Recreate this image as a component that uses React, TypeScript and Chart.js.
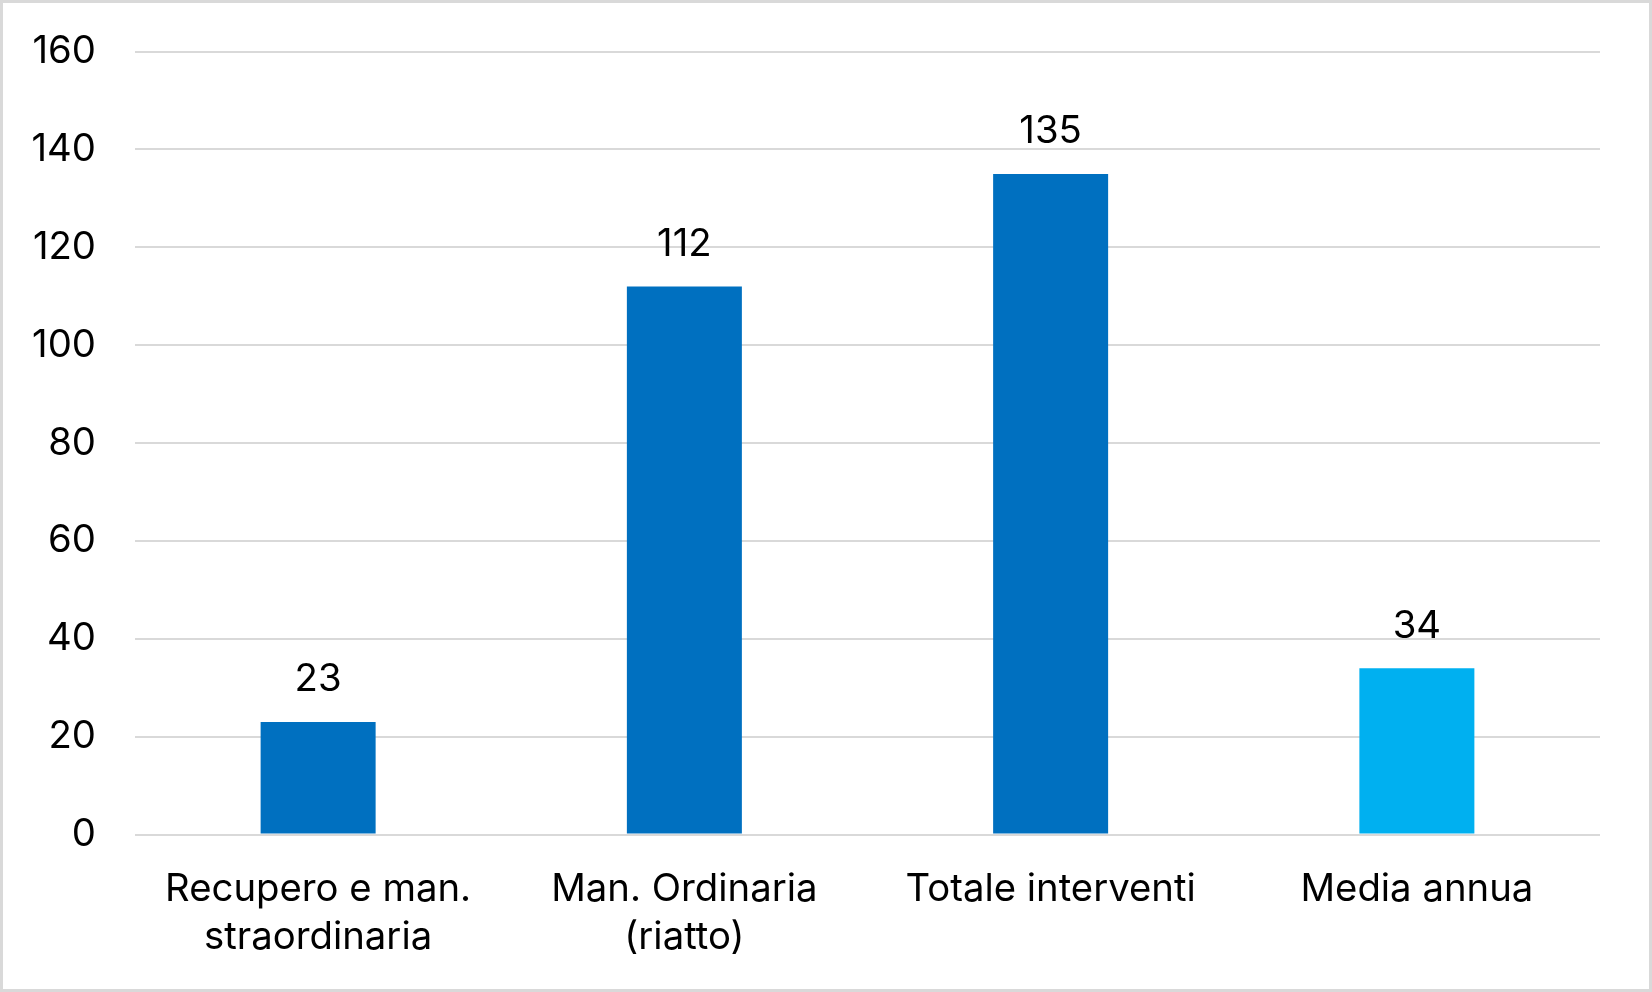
import React, { useEffect, useRef } from "react";
import { Chart, registerables } from "chart.js";

Chart.register(...registerables);

const categories: (string | string[])[] = [
  ["Recupero e man.", "straordinaria"],
  ["Man. Ordinaria", "(riatto)"],
  "Totale interventi",
  "Media annua",
];
const values: number[] = [23, 112, 135, 34];
const barColors: string[] = ["#0070C0", "#0070C0", "#0070C0", "#00B0F0"];
const yTicksMax = 160;
const yTickStep = 20;

const FONT = "Inter, 'Liberation Sans', Arial, sans-serif";
const FONT_SIZE = 38.3;

const dataLabelPlugin = {
  id: "dataLabels",
  afterDatasetsDraw(chart: any) {
    const ctx = chart.ctx;
    const meta = chart.getDatasetMeta(0);
    ctx.save();
    ctx.fillStyle = "#000000";
    ctx.font = `${FONT_SIZE}px ${FONT}`;
    ctx.textAlign = "center";
    ctx.textBaseline = "middle";
    meta.data.forEach((bar: any, i: number) => {
      ctx.fillText(String(values[i]), bar.x, bar.y - 42);
    });
    ctx.restore();
  },
};

export default function App() {
  const ref = useRef<HTMLCanvasElement>(null);
  useEffect(() => {
    if (!ref.current) return;
    const chart = new Chart(ref.current, {
      type: "bar",
      data: {
        labels: categories,
        datasets: [
          {
            data: values,
            backgroundColor: barColors,
            borderWidth: 0,
            categoryPercentage: 1,
            barPercentage: 0.314,
          },
        ],
      },
      options: {
        responsive: false,
        animation: false,
        devicePixelRatio: 1,
        layout: { padding: { top: 48.6, right: 49, left: 0, bottom: 0 } },
        plugins: {
          legend: { display: false },
          tooltip: { enabled: false },
        },
        scales: {
          x: {
            grid: { display: false, drawTicks: false },
            border: { display: false },
            ticks: {
              color: "#000000",
              padding: 30.5,
              maxRotation: 0,
              autoSkip: false,
              font: { family: FONT, size: FONT_SIZE, lineHeight: 1.27 },
            },
            afterFit: (scale: any) => {
              scale.height = 154.5;
            },
          },
          y: {
            min: 0,
            max: yTicksMax,
            grid: { color: "#d9d9d9", lineWidth: 2, drawTicks: false },
            border: { display: false },
            ticks: {
              stepSize: yTickStep,
              color: "#000000",
              padding: 39,
              font: { family: FONT, size: FONT_SIZE },
            },
            afterFit: (scale: any) => {
              scale.width = 132;
              scale.paddingTop = 0;
              scale.paddingBottom = 0;
            },
          },
        },
      },
      plugins: [dataLabelPlugin],
    });
    return () => chart.destroy();
  }, []);

  return (
    <div
      style={{
        position: "fixed",
        left: 0,
        top: 0,
        width: 1652,
        height: 992,
        boxSizing: "border-box",
        border: "3px solid #d9d9d9",
        background: "#ffffff",
      }}
    >
      <canvas ref={ref} width={1646} height={986} style={{ display: "block" }} />
    </div>
  );
}
